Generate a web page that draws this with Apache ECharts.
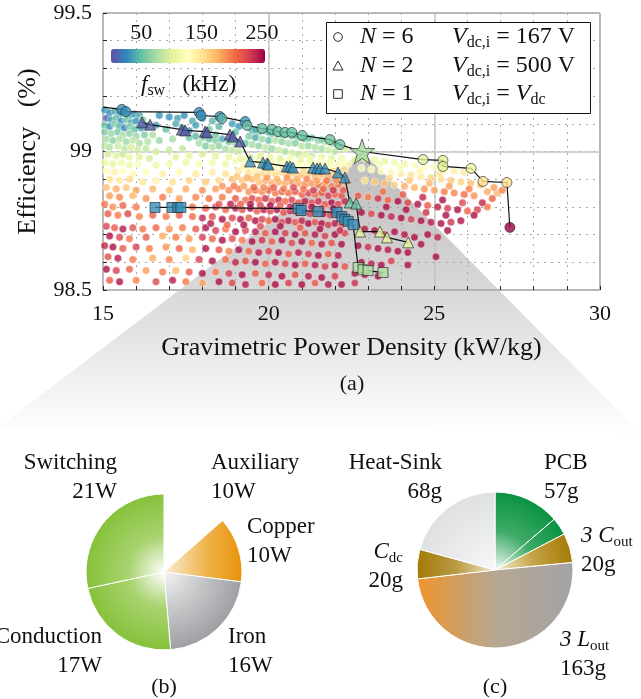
<!DOCTYPE html>
<html><head><meta charset="utf-8">
<script src="https://cdn.jsdelivr.net/npm/echarts@6/dist/echarts.min.js"></script>
<style>html,body{margin:0;padding:0;background:#fff}#c{width:641px;height:699px}</style>
</head><body><div id="c"></div>
<script>
// ---------- data ----------
const xTickLabels = [15, 20, 25, 30];
const yTickLabels = [98.5, 99, 99.5];
const fswTicks = [50, 150, 250];
const fswRange = [0, 255];

// design-space cloud: [power density kW/kg, efficiency %, fsw kHz]
const cloud = [
[15.05,99.15,30],[15.2,99.14,25],[15.35,99.145,40],[15.5,99.135,30],[15.65,99.14,45],[15.8,99.13,35],[15.95,99.135,30],[16.1,99.13,40],
[15.1,99.12,10],[15.25,99.115,35],[15.4,99.12,50],[15.55,99.11,25],[15.7,99.115,55],[15.85,99.105,40],[16.0,99.11,30],[16.2,99.115,60],
[15.05,99.095,55],[15.2,99.09,30],[15.35,99.1,60],[15.5,99.09,45],[15.65,99.085,20],[15.8,99.09,60],[15.95,99.08,50],[16.15,99.085,35],[16.3,99.095,55],
[16.7,99.13,30],[17.0,99.125,28],[17.25,99.12,35],[17.45,99.13,28],[17.7,99.11,40],[18.0,99.12,30],[18.3,99.11,45],[18.9,99.1,35],[19.1,99.09,30],[16.6,99.095,35],[16.9,99.08,50],[17.4,99.085,45],[17.6,99.075,30],[18.2,99.08,55],
[19.5,99.075,45],[19.7,99.07,60],[19.9,99.075,55],[20.1,99.065,50],[20.3,99.06,65],[20.5,99.06,55],[20.7,99.055,60],[20.9,99.05,70],[21.1,99.045,55],[21.3,99.05,60],[21.5,99.04,65],[21.7,99.035,75],[21.9,99.03,70],[22.1,99.02,80],
[19.4,99.055,60],[19.6,99.05,40],[19.8,99.045,70],[20.0,99.04,55],[20.2,99.04,80],[20.4,99.035,65],[20.6,99.03,75],[20.8,99.03,60],[21.0,99.02,85],[21.2,99.02,70],[21.4,99.015,80],[21.6,99.01,75],[21.8,99.005,90],[22.0,99.0,85],[22.3,99.01,95],
[19.3,99.03,55],[19.5,99.025,75],[19.7,99.02,65],[19.9,99.015,85],[20.1,99.01,70],[20.3,99.005,90],[20.5,99.0,80],[20.7,98.995,95],[20.9,98.99,85],[21.1,98.99,100],[21.3,98.985,90],[21.6,98.98,105],[21.9,98.975,100],[22.2,98.975,110],
[17.6,99.05,55],[17.8,99.055,45],[18.0,99.05,65],[18.2,99.045,50],[18.4,99.04,60],[18.6,99.045,40],[18.8,99.035,55],[19.0,99.03,70],[17.9,99.03,75],[18.1,99.02,60],[18.3,99.015,80],[18.5,99.02,65],[18.7,99.01,75],[18.9,99.005,85],[19.1,99.0,90],
[15.05,99.07,60],[15.25,99.065,70],[15.45,99.07,55],[15.6,99.06,75],[15.8,99.065,65],[16.0,99.055,70],[16.25,99.06,60],[16.5,99.06,75],
[15.1,99.045,75],[15.3,99.04,65],[15.5,99.045,80],[15.7,99.035,70],[15.9,99.04,85],[16.1,99.03,75],[16.35,99.035,80],[16.7,99.04,70],[17.1,99.045,75],
[15.05,99.02,85],[15.2,99.015,80],[15.45,99.02,90],[15.65,99.01,85],[15.85,99.015,95],[16.05,99.005,90],[16.3,99.01,85],[16.6,99.0,95],[17.0,99.005,90],[17.4,99.01,85],
[15.15,98.99,95],[15.4,98.985,100],[15.6,98.99,90],[15.8,98.98,105],[16.1,98.98,100],[16.4,98.975,95],[17.2,98.98,100],[17.6,98.985,105],[18.0,98.99,95],[18.4,98.985,100],[18.8,98.98,105],
[15.05,98.96,110],[15.3,98.955,105],[15.55,98.96,115],[15.8,98.95,110],[16.05,98.955,120],[16.6,98.95,110],[17.0,98.955,115],[17.5,98.96,110],[17.9,98.955,120],[18.3,98.96,115],[18.7,98.955,110],[19.0,98.965,120],[19.3,98.97,115],[19.5,98.96,125],[19.7,98.965,110],[19.9,98.955,120],[20.1,98.96,115],[20.3,98.955,125],[20.5,98.96,120],[20.7,98.95,130],[20.9,98.955,120],[21.1,98.95,125],[21.3,98.955,130],[21.5,98.945,120],[21.7,98.95,130],[21.9,98.945,125],[22.1,98.95,135],[22.4,98.955,130],
[15.1,98.93,130],[15.35,98.925,140],[15.6,98.93,125],[15.9,98.92,135],[16.3,98.925,130],[16.8,98.92,140],[17.3,98.925,135],[17.8,98.92,145],[18.3,98.925,140],[18.7,98.92,150],[19.1,98.93,145],[19.4,98.925,150],[19.6,98.93,140],[19.8,98.92,155],[20.0,98.925,150],[20.2,98.92,160],[20.4,98.925,155],[20.6,98.915,165],[20.8,98.92,160],[21.0,98.915,170],[21.2,98.92,165],[21.4,98.91,175],[21.6,98.915,170],[21.8,98.91,180],[22.0,98.915,175],[22.2,98.91,170],
[15.2,98.9,150],[15.5,98.895,145],[15.8,98.9,155],[16.2,98.89,150],[16.6,98.895,140],[17.1,98.89,150],[17.6,98.895,160],[18.1,98.89,165],[18.5,98.895,155],[18.9,98.9,170],[19.2,98.895,165],[19.5,98.9,175],[19.7,98.89,170],[19.9,98.895,180],[20.1,98.885,175],[20.3,98.89,185],[20.5,98.885,180],[20.7,98.89,190],[20.9,98.885,185],[21.1,98.88,195],[21.3,98.885,190],[21.5,98.88,200],[21.7,98.885,185],[21.9,98.875,195],[22.1,98.88,200],[22.35,98.89,190],
[15.1,98.87,170],[15.4,98.865,180],[15.7,98.87,165],[16.0,98.86,185],[16.5,98.865,175],[17.0,98.86,170],[17.5,98.865,180],[18.0,98.86,190],[18.4,98.865,185],[18.8,98.86,195],[19.1,98.865,200],[19.4,98.855,190],[19.6,98.86,205],[19.8,98.855,195],[20.0,98.86,210],[20.2,98.85,200],[20.4,98.855,215],[20.6,98.85,205],[20.8,98.855,220],[21.0,98.845,210],[21.2,98.85,225],[21.4,98.845,205],[21.6,98.85,215],[21.8,98.84,230],[22.0,98.845,210],[22.2,98.84,220],
[15.2,98.84,185],[15.5,98.835,195],[15.9,98.84,175],[16.3,98.83,190],[16.8,98.835,200],[17.3,98.83,185],[17.8,98.835,195],[18.2,98.83,205],[18.6,98.835,200],[19.0,98.83,215],[19.3,98.825,205],[19.5,98.83,225],[19.7,98.825,210],[19.9,98.83,235],[20.1,98.82,215],[20.3,98.825,240],[20.5,98.82,210],[20.7,98.825,230],[20.9,98.815,215],[21.1,98.82,245],[21.3,98.815,220],[21.5,98.82,235],[21.7,98.81,215],[21.9,98.815,250],[22.1,98.81,225],[22.3,98.82,240],
[15.05,98.81,200],[15.3,98.8,190],[15.6,98.805,210],[16.0,98.8,200],[17.7,98.8,205],[18.1,98.795,215],[18.4,98.8,230],[18.7,98.79,210],[19.0,98.795,240],[19.2,98.79,220],[19.45,98.795,250],[19.65,98.785,215],[19.85,98.79,245],[20.05,98.785,225],[20.25,98.79,250],[20.45,98.78,220],[20.65,98.785,240],[20.85,98.78,210],[21.05,98.785,250],[21.25,98.775,230],[21.45,98.78,215],[21.65,98.775,245],[21.85,98.77,225],[22.05,98.775,250],[22.25,98.77,235],
[15.15,98.775,215],[15.45,98.77,200],[15.75,98.775,225],[16.1,98.765,195],[16.5,98.77,210],[16.9,98.765,200],[17.3,98.77,215],[17.7,98.765,205],[18.0,98.76,240],[18.3,98.765,220],[18.6,98.755,250],[18.9,98.76,225],[19.15,98.755,245],[19.4,98.76,215],[19.6,98.75,250],[19.8,98.755,230],[20.0,98.75,210],[20.2,98.755,250],[20.4,98.745,225],[20.6,98.75,245],[20.8,98.745,215],[21.0,98.75,240],[21.2,98.74,250],[21.4,98.745,220],[21.6,98.74,250],[21.8,98.735,230],[22.0,98.74,245],[22.2,98.735,215],
[15.1,98.73,230],[15.35,98.725,215],[15.6,98.72,245],[15.9,98.725,220],[16.2,98.72,200],[16.6,98.725,210],[17.0,98.72,190],[17.4,98.725,200],[17.8,98.72,215],[18.1,98.725,250],[18.4,98.715,230],[18.7,98.72,205],[19.0,98.71,250],[19.3,98.715,225],[19.6,98.71,245],[19.9,98.705,215],[20.2,98.71,250],[20.5,98.705,230],[20.8,98.7,250],[21.1,98.705,220],[21.4,98.7,245],[21.7,98.695,230],[22.0,98.7,250],[22.3,98.705,225],
[15.2,98.695,250],[15.5,98.69,225],[15.8,98.685,200],[16.3,98.69,215],[16.8,98.695,180],[17.2,98.69,200],[17.6,98.685,190],[18.0,98.69,230],[18.3,98.685,210],[18.6,98.68,250],[18.9,98.685,220],[19.2,98.68,200],[19.5,98.675,250],[19.8,98.68,235],[20.1,98.675,215],[20.4,98.68,250],[20.7,98.67,225],[21.0,98.675,250],[21.3,98.67,210],[21.6,98.665,245],[21.9,98.67,220],[22.2,98.665,250],
[15.05,98.66,240],[15.3,98.655,250],[15.6,98.65,215],[16.0,98.655,230],[16.4,98.65,200],[16.9,98.655,190],[17.3,98.65,210],[17.7,98.645,175],[18.1,98.65,250],[18.5,98.645,220],[18.8,98.64,195],[19.1,98.645,250],[19.4,98.64,210],[19.7,98.635,245],[20.0,98.64,225],[20.3,98.635,250],[20.6,98.63,215],[20.9,98.635,245],[21.2,98.63,230],[21.5,98.625,250],[21.8,98.63,215],[22.1,98.625,245],
[15.15,98.62,220],[15.45,98.615,245],[15.9,98.61,200],[16.5,98.615,180],[17.0,98.61,195],[17.5,98.615,160],[17.9,98.61,230],[18.3,98.605,250],[18.7,98.61,205],[19.0,98.6,240],[19.3,98.605,220],[19.6,98.6,250],[19.9,98.595,210],[20.2,98.6,245],[20.5,98.595,225],[20.8,98.59,250],[21.1,98.595,215],[21.4,98.59,245],[21.7,98.585,230],[22.0,98.59,250],[22.3,98.585,220],
[15.1,98.575,250],[15.4,98.57,230],[15.8,98.575,210],[16.3,98.57,185],[16.8,98.565,200],[17.2,98.57,175],[17.6,98.565,215],[18.0,98.56,250],[18.4,98.565,200],[18.8,98.56,230],[19.2,98.555,250],[19.6,98.56,215],[20.0,98.555,240],[20.4,98.55,250],[20.8,98.555,220],[21.2,98.55,245],[21.6,98.545,250],[22.0,98.55,230],
[15.2,98.535,215],[15.5,98.53,250],[16.0,98.535,195],[16.6,98.53,225],[17.1,98.535,245],[17.5,98.53,200],[18.0,98.525,185],[18.5,98.53,250],[18.9,98.525,225],[19.3,98.52,245],[19.8,98.525,210],[20.2,98.52,250],[20.6,98.525,230],[21.0,98.52,250],[21.4,98.525,215],[21.8,98.52,245],[22.2,98.52,250],[22.6,98.525,235],
[22.6,98.97,105],[22.9,98.975,100],[23.2,98.97,110],[23.5,98.965,105],[23.8,98.96,115],[24.1,98.955,110],[24.4,98.95,120],[24.7,98.94,130],[25.0,98.945,125],[25.3,98.935,135],[25.6,98.93,140],[25.9,98.925,145],
[22.8,98.94,120],[23.1,98.935,130],[23.4,98.93,125],[23.7,98.925,135],[24.0,98.92,140],[24.3,98.915,150],[24.6,98.91,145],[24.9,98.905,160],[25.2,98.9,155],[25.5,98.895,165],[25.8,98.89,160],[26.1,98.885,170],[26.4,98.88,175],
[22.9,98.895,150],[23.2,98.89,165],[23.5,98.885,170],[23.8,98.88,160],[24.1,98.875,180],[24.4,98.87,175],[24.7,98.865,190],[25.0,98.86,185],[25.3,98.855,200],[25.6,98.85,195],[25.9,98.845,205],[26.2,98.84,190],[26.6,98.855,180],[26.9,98.85,175],
[22.7,98.84,215],[23.0,98.835,200],[23.3,98.83,235],[23.6,98.825,210],[23.9,98.82,250],[24.2,98.815,225],[24.5,98.81,250],[24.8,98.805,215],[25.1,98.8,245],[25.4,98.795,230],[25.7,98.79,250],[26.0,98.785,210],[26.3,98.79,230],[26.6,98.8,200],
[22.8,98.78,250],[23.1,98.775,225],[23.4,98.77,250],[23.7,98.765,240],[24.0,98.76,250],[24.3,98.755,230],[24.6,98.75,250],[24.9,98.745,245],[25.2,98.74,250],[25.5,98.745,235],[25.8,98.75,250],
[22.9,98.72,245],[23.2,98.715,250],[23.5,98.7,230],[23.8,98.71,250],[24.1,98.7,245],[24.4,98.69,250],[24.8,98.7,250],[25.1,98.69,240],[22.7,98.66,250],[23.0,98.655,235],[23.3,98.65,250],[23.6,98.645,245],[23.9,98.64,250],[24.2,98.635,250],
[22.8,98.6,250],[23.1,98.595,240],[23.4,98.59,250],[23.7,98.605,230],[24.2,98.59,250],[22.6,98.56,250],[22.9,98.555,245],[23.3,98.55,250],
[26.8,98.87,185],[27.05,98.86,195],[26.75,98.83,210],[26.45,98.815,240],[26.2,98.77,250],[25.4,98.715,250],[24.6,98.665,250],[25.05,98.62,250],
[19.6,99.078,40],[20.0,99.07,45],[20.4,99.062,55],[20.8,99.058,50],[21.2,99.048,55],[21.6,99.042,60],[22.0,99.03,65],[17.2,99.1,40],[17.8,99.095,35],[18.5,99.09,45],[19.0,99.07,50],[18.4,99.06,55],
[19.15,98.975,105],[19.45,98.98,95],[19.75,98.985,100],[20.05,98.98,110],[20.35,98.975,100],[20.65,98.975,115],[20.95,98.97,105],[21.25,98.97,110],[21.55,98.965,120],[21.85,98.96,115],[22.25,98.96,125],
[19.25,98.945,140],[19.55,98.94,135],[19.85,98.94,150],[20.15,98.935,140],[20.45,98.94,150],[20.75,98.935,145],[21.05,98.93,155],[21.35,98.935,150],[21.65,98.93,160],[21.95,98.93,155],[22.3,98.935,150],
[19.05,98.91,165],[19.35,98.905,180],[19.65,98.91,170],[19.95,98.905,185],[20.25,98.9,175],[20.55,98.905,190],[20.85,98.9,180],[21.15,98.9,195],[21.45,98.895,185],[21.75,98.895,200],[22.05,98.895,190],
[18.6,98.875,190],[18.95,98.875,200],[19.25,98.875,185],[19.55,98.87,210],[19.85,98.87,195],[20.15,98.87,215],[20.45,98.865,200],[20.75,98.87,225],[21.05,98.865,205],[21.35,98.86,230],[21.65,98.865,210],[21.95,98.86,235],[22.25,98.86,215],
[18.5,98.81,220],[18.85,98.81,245],[19.15,98.81,215],[19.45,98.81,250],[19.75,98.805,225],[20.05,98.805,250],[20.35,98.805,215],[20.65,98.8,245],[20.95,98.8,230],[21.3,98.8,250],[21.6,98.795,220],[21.95,98.795,250],
[18.25,98.74,245],[18.75,98.735,210],[19.25,98.735,250],[19.75,98.73,225],[20.35,98.73,250],[20.95,98.725,215],[21.55,98.72,250],[22.15,98.715,240],
[23.35,98.955,115],[23.95,98.945,120],[24.55,98.93,135],[25.15,98.92,150],[23.65,98.905,155],[24.25,98.895,165],[24.85,98.885,175],[25.45,98.875,185],[26.05,98.865,195],
[23.45,98.855,205],[24.05,98.845,215],[24.65,98.835,240],[25.25,98.825,250],[25.85,98.815,225],[23.55,98.8,250],[24.15,98.79,250],[24.75,98.78,235],[25.35,98.77,250]
];

// Pareto fronts: [kW/kg, %, fsw]
const n6Start = [15.0, 99.16];
const n6 = [
[15.57,99.152,28],[15.69,99.144,28],[17.90,99.141,28],[17.96,99.130,28],[18.53,99.126,30],[18.59,99.119,45],
[19.29,99.108,30],[19.35,99.094,50],[19.80,99.083,52],[20.10,99.080,52],[20.28,99.072,52],[20.49,99.069,52],
[20.70,99.069,52],[21.01,99.058,52],[21.85,99.043,55],[22.15,99.025,55],
[24.66,98.971,100],[25.26,98.968,100],[25.26,98.946,100],[26.11,98.939,112],[26.47,98.892,150],[27.19,98.888,150],[27.28,98.726,255]
];
const starPoint = [22.82, 99.0];
const n2 = [
[16.18,99.105,6],[16.42,99.097,6],[17.38,99.079,6],[17.48,99.076,6],[18.08,99.072,6],[18.14,99.069,6],[18.83,99.061,6],
[18.92,99.054,6],[19.14,99.036,6],[19.44,98.964,28],[19.83,98.960,28],[19.95,98.957,28],[19.99,98.953,28],[20.55,98.946,28],
[20.64,98.946,28],[20.73,98.942,28],[21.34,98.942,28],[21.46,98.939,28],[21.55,98.939,28],[21.70,98.939,28],[22.09,98.924,28],
[22.30,98.906,28],[22.45,98.816,55],[22.64,98.812,55],[22.76,98.711,100],[23.36,98.711,100],[23.57,98.690,100],[24.21,98.672,100]
];
const n1 = [
[16.57,98.798,28],[17.08,98.798,28],[17.26,98.798,28],[17.35,98.798,28],[20.89,98.794,28],[20.98,98.787,28],[21.49,98.783,28],
[22.06,98.780,28],[22.21,98.765,28],[22.30,98.755,28],[22.40,98.748,28],[22.55,98.736,28],[22.70,98.581,78],[22.85,98.573,78],
[23.00,98.570,78],[23.45,98.563,78]
];

// (b) losses, (c) masses
const lossNames = ['Auxiliary', 'Copper', 'Iron', 'Conduction', 'Switching'];
const lossValues = [10, 10, 16, 17, 21];
const massNames = ['PCB', '3 Cout', '3 Lout', 'Cdc', 'Heat-Sink'];
const massValues = [57, 20, 163, 20, 68];
const pcbSplit = [45, 12];

// ---------- drawing ----------
const FONT = 'Liberation Serif';
const spectral = ['#5e4fa2','#3288bd','#66c2a5','#abdda4','#e6f598','#ffffbf','#fee08b','#fdae61','#f46d43','#d53e4f','#9e0142'];
const chart = echarts.init(document.getElementById('c'), null, {renderer: 'canvas'});

const near = (v, arr) => arr.some(t => Math.abs(t - v) < 1e-6);
const xy = p => [p[0], p[1]];
const n6Line = [n6Start].concat(n6.filter(p => p[0] < starPoint[0]).map(xy), [starPoint], n6.filter(p => p[0] > starPoint[0]).map(xy));

const PB = [164, 572], PC = [495, 570], PR = 78;
const radial = (c, stops) => ({type: 'radial', x: c[0], y: c[1], r: PR, global: true,
  colorStops: stops.map(s => ({offset: s[0], color: s[1]}))});
const linear = (x1, x2, stops) => ({type: 'linear', x: x1, y: 0, x2: x2, y2: 0, global: true,
  colorStops: stops.map(s => ({offset: s[0], color: s[1]}))});

const lossColors = [
  'rgba(0,0,0,0)',
  linear(PB[0], PB[0] + PR, [[0, '#fbefd6'], [0.55, '#efb24a'], [1, '#e8930a']]),
  radial(PB, [[0, '#f4f4f4'], [0.5, '#c5c6c8'], [1, '#9d9fa2']]),
  radial(PB, [[0, '#ffffff'], [0.45, '#a9d470'], [1, '#87c13b']]),
  radial(PB, [[0, '#ffffff'], [0.45, '#a9d470'], [1, '#87c13b']])
];
const lossPos = [[211, 477, 'left'], [247, 541, 'left'], [228, 651, 'left'], [102, 651, 'right'], [117, 477, 'right']];

const massColors = [
  radial(PC, [[0, '#f2faf4'], [0.5, '#3fab68'], [1, '#0a9242']]),
  radial(PC, [[0, '#f2faf4'], [0.5, '#3fab68'], [1, '#0a9242']]),
  radial(PC, [[0, '#f7f0d8'], [0.5, '#c6a448'], [1, '#a57c06']]),
  linear(PC[0] - PR, PC[0] + PR, [[0, '#ef942a'], [0.5, '#b6a792'], [1, '#a3a4a5']]),
  linear(PC[0] - PR, PC[0], [[0, '#a37a04'], [0.5, '#b89a45'], [1, '#f1e6c4']]),
  radial(PC, [[0, '#f7f7f7'], [1, '#dfe0e2']])
];
const massPos = [[544, 477, 'left'], null, [581, 550, 'left'], [560, 654, 'left'], [403, 566, 'right'], [442, 477, 'right']];

const labRich = {
  t: {fontFamily: FONT, fontSize: 23, color: '#111', lineHeight: 29},
  it: {fontFamily: FONT, fontSize: 23, fontStyle: 'italic', color: '#111', lineHeight: 29},
  sb: {fontFamily: FONT, fontSize: 15, color: '#111', lineHeight: 19, verticalAlign: 'bottom'}
};
const massLabelText = [
  '{t|PCB}\n{t|' + massValues[0] + 'g}',
  '',
  '{it|3 C}{sb|out}\n{t|' + massValues[1] + 'g}',
  '{it|3 L}{sb|out}\n{t|' + massValues[2] + 'g}',
  '{it|C}{sb|dc}\n{t|' + massValues[3] + 'g}',
  '{t|Heat-Sink}\n{t|' + massValues[4] + 'g}'
];

const lossData = lossNames.map((n, i) => ({
  name: n, value: lossValues[i],
  itemStyle: {color: lossColors[i], borderWidth: i === 0 ? 0 : 1}
}));
const massData = [
  {name: 'PCB', value: pcbSplit[0]},
  {name: 'PCB ', value: pcbSplit[1], label: {show: false}},
  {name: massNames[1], value: massValues[1]},
  {name: massNames[2], value: massValues[2]},
  {name: massNames[3], value: massValues[3]},
  {name: massNames[4], value: massValues[4]}
].map((d, i) => Object.assign(d, {itemStyle: {color: massColors[i]}}));

const pieBase = {
  type: 'pie', radius: PR, startAngle: 90, clockwise: true, animation: false, silent: true,
  itemStyle: {borderColor: '#fff', borderWidth: 1},
  labelLine: {show: false}, z: 3
};
const pieLabel = (fmt) => ({show: true, position: 'inside', overflow: 'none', rich: labRich, formatter: fmt});

const markerStyle = {borderColor: '#222', borderWidth: 0.8};
const lineSeries = (data) => ({type: 'line', data: data, symbol: 'none', z: 3, silent: true,
  lineStyle: {color: '#111', width: 1.2}, animation: false});

const option = {
  animation: false,
  grid: {left: 103, right: 41, top: 13, bottom: 409, show: true, borderColor: '#222', borderWidth: 1, backgroundColor: 'transparent'},
  xAxis: [
    {type: 'value', min: 15, max: 30, interval: 1,
     axisLine: {show: false}, axisTick: {show: true, inside: true, length: 4, lineStyle: {color: '#222'}},
     axisLabel: {margin: 13, fontFamily: FONT, fontSize: 22, color: '#111',
       formatter: v => near(v, xTickLabels) ? String(Math.round(v)) : ''},
     splitLine: {show: true, lineStyle: {color: '#a8a8a8', type: [2, 5], width: 1}},
     name: 'Gravimetric Power Density (kW/kg)', nameLocation: 'middle', nameGap: 45,
     nameTextStyle: {fontFamily: FONT, fontSize: 26, color: '#111'}},
    {type: 'value', min: 15, max: 30, interval: 5, position: 'bottom',
     axisLine: {show: false}, axisTick: {show: false}, axisLabel: {show: false},
     splitLine: {show: true, lineStyle: {color: '#c4c4c4', width: 1.5}}}
  ],
  yAxis: [
    {type: 'value', min: 98.5, max: 99.5, interval: 0.1,
     axisLine: {show: false}, axisTick: {show: true, inside: true, length: 4, lineStyle: {color: '#222'}},
     axisLabel: {margin: 11, fontFamily: FONT, fontSize: 22, color: '#111',
       formatter: v => near(v, yTickLabels) ? String(yTickLabels.find(t => Math.abs(t - v) < 1e-6)) : ''},
     splitLine: {show: true, lineStyle: {color: '#a8a8a8', type: [2, 5], width: 1}},
     name: 'Efficiency   (%)', nameLocation: 'middle', nameGap: 62, nameRotate: 90,
     nameTextStyle: {fontFamily: FONT, fontSize: 26, color: '#111'}},
    {type: 'value', min: 98.5, max: 99.5, interval: 0.5, position: 'left',
     axisLine: {show: false}, axisTick: {show: false}, axisLabel: {show: false},
     splitLine: {show: true, lineStyle: {color: '#c4c4c4', width: 1.5}}}
  ],
  visualMap: {
    type: 'continuous', min: fswRange[0], max: fswRange[1], dimension: 2, seriesIndex: [0, 4, 5, 6],
    orient: 'horizontal', left: 111, top: 49, itemWidth: 14, itemHeight: 154, padding: 0,
    calculable: false, hoverLink: false, text: null, inRange: {color: spectral}
  },
  series: [
    {type: 'scatter', data: cloud, symbol: 'circle', symbolSize: 7.5, z: 2, silent: true,
     itemStyle: {borderColor: 'rgba(255,255,255,0.9)', borderWidth: 0.6}},
    lineSeries(n6Line),
    lineSeries(n2.map(xy)),
    lineSeries(n1.map(xy)),
    {type: 'scatter', name: 'N6', data: n6, symbol: 'circle', symbolSize: 10, z: 4, itemStyle: markerStyle},
    {type: 'scatter', name: 'N2', data: n2, symbol: 'triangle', symbolSize: 11, z: 4, itemStyle: markerStyle},
    {type: 'scatter', name: 'N1', data: n1, symbol: 'rect', symbolSize: 10, z: 4, itemStyle: markerStyle},
    {type: 'scatter', name: 'star', data: [starPoint], z: 5, symbolSize: 25,
     symbol: 'path://M50,2 L61.8,36.2 L97.6,36.6 L69,58.2 L79.4,92.6 L50,72 L20.6,92.6 L31,58.2 L2.4,36.6 L38.2,36.2 Z',
     itemStyle: {color: '#a8db9f', borderColor: '#333', borderWidth: 0.9}},
    Object.assign({}, pieBase, {center: PB, data: lossData,
      label: pieLabel(p => '{t|' + p.name + '}\n{t|' + p.value + 'W}'),
      labelLayout: p => ({x: lossPos[p.dataIndex][0], y: lossPos[p.dataIndex][1], align: lossPos[p.dataIndex][2], verticalAlign: 'middle'})}),
    Object.assign({}, pieBase, {center: PC, data: massData,
      label: pieLabel(p => massLabelText[p.dataIndex]),
      labelLayout: p => massPos[p.dataIndex] ? ({x: massPos[p.dataIndex][0], y: massPos[p.dataIndex][1], align: massPos[p.dataIndex][2], verticalAlign: 'middle'}) : {}})
  ]
};
chart.setOption(option);

// ---------- annotations ----------
const apex = chart.convertToPixel({gridIndex: 0}, starPoint);
function mathRich(fs) {
  return {
    r: {fontFamily: FONT, fontSize: fs, fill: '#111', lineHeight: fs + 4},
    i: {fontFamily: FONT, fontSize: fs, fontStyle: 'italic', fill: '#111', lineHeight: fs + 4},
    s: {fontFamily: FONT, fontSize: Math.round(fs * 0.68), fill: '#111', lineHeight: Math.round(fs * 0.8), verticalAlign: 'bottom'}
  };
}
function text(x, y, t, align, z, fs) {
  fs = fs || 22;
  return {type: 'text', x: x, y: y, z: z || 20,
    style: {text: t, rich: mathRich(fs), align: align || 'left', verticalAlign: 'middle',
      fontFamily: FONT, fontSize: fs, fill: '#111'}};
}
const legendRows = [
  {sym: 'circle', n: 6, v: '{r| = 167 V}'},
  {sym: 'triangle', n: 2, v: '{r| = 500 V}'},
  {sym: 'rect', n: 1, v: '{r| = }{i|V}{s|dc}'}
];
const rowY = [37, 66, 94];
const els = [];
els.push({type: 'polygon', z: -5, silent: true,
  shape: {points: [apex, [0, 426], [641, 434]]},
  style: {fill: new echarts.graphic.LinearGradient(0, apex[1], 0, 436,
    [{offset: 0, color: '#bcbcbc'}, {offset: 0.5, color: '#d9d9d9'}, {offset: 1, color: '#ffffff'}], true)}});
els.push({type: 'rect', z: 15, shape: {x: 326.5, y: 22.5, width: 264, height: 91},
  style: {fill: '#fff', stroke: '#111', lineWidth: 1}});
legendRows.forEach((r, k) => {
  const y = rowY[k], x = 338;
  if (r.sym === 'circle') els.push({type: 'circle', z: 16, shape: {cx: x, cy: y, r: 4.3}, style: {fill: '#fff', stroke: '#111', lineWidth: 0.9}});
  if (r.sym === 'triangle') els.push({type: 'polygon', z: 16, shape: {points: [[x, y - 5], [x + 5, y + 4], [x - 5, y + 4]]}, style: {fill: '#fff', stroke: '#111', lineWidth: 0.9}});
  if (r.sym === 'rect') els.push({type: 'rect', z: 16, shape: {x: x - 4.3, y: y - 4.3, width: 8.6, height: 8.6}, style: {fill: '#fff', stroke: '#111', lineWidth: 0.9}});
  els.push(text(360, y, '{i|N}{r| = ' + r.n + '}', 'left', 16, 24));
  els.push(text(452, y, '{i|V}{s|dc,i}' + r.v, 'left', 16, 24));
});
fswTicks.forEach(f => {
  const px = 111 + (f - fswRange[0]) / (fswRange[1] - fswRange[0]) * 154;
  els.push(text(px, 33, '{r|' + f + '}', 'center'));
});
els.push(text(141, 85, '{i|f}{s|sw}{r|   (kHz)}', 'left', 20, 23));
els.push(text(352, 384, '{r|(a)}', 'center'));
els.push(text(PB[0], 687, '{r|(b)}', 'center'));
els.push(text(PC[0], 687, '{r|(c)}', 'center'));
chart.setOption({graphic: {elements: els}});
</script>
</body></html>
